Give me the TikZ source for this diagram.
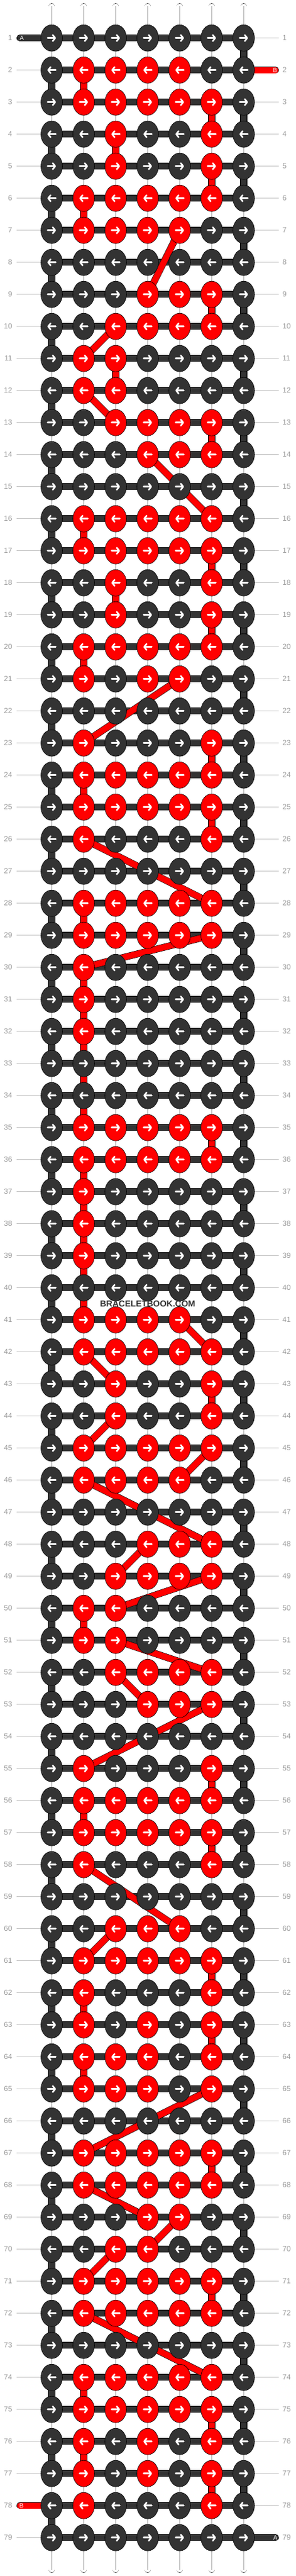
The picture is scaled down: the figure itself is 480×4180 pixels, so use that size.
\documentclass[tikz,border=0pt]{standalone}
\usepackage{fontspec}
\setmainfont{Liberation Sans}
\usetikzlibrary{shapes.geometric, arrows.meta}

\definecolor{bdark}{HTML}{333333}
\definecolor{bred}{HTML}{FF0000}
\definecolor{labgray}{HTML}{9A9A9A}
\definecolor{tickgray}{HTML}{C4C4C4}
\definecolor{coregray}{HTML}{C8C8C8}

\pgfdeclarelayer{strands}
\pgfsetlayers{strands,main}

\tikzset{
  knot/.style={ellipse, draw=black, line width=0.6pt, minimum width=35pt, minimum height=43pt, inner sep=0pt},
  warp/.style={draw=black, line width=0.6pt, double=white, double distance=9.6pt},
  warpcore/.style={draw=coregray, line width=1.4pt},
  carrier/.style={draw=black, line width=0.6pt, double=bdark, double distance=10pt},
  bstrand/.style={draw=black, line width=0.6pt, double=bred, double distance=10pt},
  knotarrow/.style={white, line width=2.6pt, line cap=round, -{Straight Barb[length=4pt,width=10pt,round]}},
  rowlab/.style={text=labgray, font=\fontsize{12}{12}\selectfont, inner sep=0pt},
  rowtick/.style={draw=tickgray, line width=0.8pt},
  tailtext/.style={text=white, font=\fontsize{10}{10}\selectfont, inner sep=0pt}
}

\begin{document}
\begin{tikzpicture}[x=1pt,y=-1pt]
\useasboundingbox (0,0) rectangle (480,4180);

% knots, row by row (odd rows -> , even rows <-)
\foreach \r/\reds in {1/{0}, 2/{2,3,4,5}, 3/{2,3,4,5,6}, 4/{3,6}, 5/{3,6}, 6/{2,3,4,5,6}, 7/{2,3,4,5}, 8/{0},
    9/{4,5,6}, 10/{3,4,5,6}, 11/{2,3}, 12/{2,3}, 13/{3,4,5,6}, 14/{4,5,6}, 15/{0},
    16/{2,3,4,5,6}, 17/{2,3,4,5,6}, 18/{3,6}, 19/{3,6}, 20/{2,3,4,5,6}, 21/{2,4,5}, 22/{0},
    23/{2,6}, 24/{2,3,4,5,6}, 25/{2,3,4,5,6}, 26/{2,6}, 27/{0},
    28/{2,3,4,5,6}, 29/{2,3,4,5,6}, 30/{2}, 31/{2}, 32/{2}, 33/{0}, 34/{0},
    35/{2,3,4,5,6}, 36/{2,3,4,5,6}, 37/{2}, 38/{2}, 39/{2}, 40/{0},
    41/{2,3,4,5}, 42/{2,3,4,5,6}, 43/{3,6}, 44/{3,6}, 45/{2,3,4,5,6}, 46/{2,3,4,5}, 47/{0},
    48/{4,5,6}, 49/{3,4,5,6}, 50/{2,3}, 51/{2,3}, 52/{3,4,5,6}, 53/{4,5,6}, 54/{0},
    55/{2,6}, 56/{2,3,4,5,6}, 57/{2,3,4,5,6}, 58/{2,6}, 59/{0},
    60/{3,4,5}, 61/{2,3,4,5,6}, 62/{2,6}, 63/{2,4,6}, 64/{2,3,4,6}, 65/{2,3,4,6}, 66/{0},
    67/{2,3,4,5,6}, 68/{2,3,4,5,6}, 69/{4,5}, 70/{3,4}, 71/{2,3,4,5,6}, 72/{2,3,4,5,6}, 73/{0},
    74/{2,3,4,5,6}, 75/{2,3,4,5,6}, 76/{2,4,6}, 77/{2,4,6}, 78/{2,6}, 79/{0}}{
  \foreach \c in {1,...,7}{
    \gdef\kfill{bdark}
    \foreach \x in \reds {\ifnum\x=\c\relax\gdef\kfill{bred}\fi}
    \node[knot, fill=\kfill] (k-\r-\c) at ({32+52*\c},{9.7+52*\r}) {};
    \ifodd\r\relax
      \draw[knotarrow] ([xshift=-6.5pt]k-\r-\c.center) -- ([xshift=7pt]k-\r-\c.center);
    \else
      \draw[knotarrow] ([xshift=6.5pt]k-\r-\c.center) -- ([xshift=-7pt]k-\r-\c.center);
    \fi
  }
}

% row numbers
\foreach \r in {1,...,79}{
  \node[rowlab, anchor=east] (ll-\r) at (20,{9.7+52*\r}) {\r};
  \node[rowlab, anchor=west] (lr-\r) at (459,{9.7+52*\r}) {\r};
  \ifnum\r=1 \else\ifnum\r=78 \else
    \draw[rowtick] ([xshift=7pt]ll-\r.east) -- (k-\r-1.west);
  \fi\fi
  \ifnum\r=2 \else\ifnum\r=79 \else
    \draw[rowtick] (k-\r-7.east) -- ([xshift=-6pt]lr-\r.west);
  \fi\fi
}

\begin{pgfonlayer}{strands}
  % white base strings
  \foreach \c in {1,...,7}{
    \coordinate (top-\c) at ({32+52*\c},10.5);
    \coordinate (bot-\c) at ({32+52*\c},4169.5);
    \draw[warp, line cap=round] (top-\c) -- (k-1-\c.center);
    \draw[warp, line cap=round] (k-79-\c.center) -- (bot-\c);
    \draw[warpcore] (top-\c) -- (k-1-\c.center);
    \draw[warpcore] (k-79-\c.center) -- (bot-\c);
    \foreach \r in {1,...,78}{
      \pgfmathtruncatemacro\rn{\r+1}
      \draw[warp] (k-\r-\c.center) -- (k-\rn-\c.center);
      \draw[warpcore] (k-\r-\c.center) -- (k-\rn-\c.center);
    }
  }

  % string A
  \foreach \r in {1,...,79}{
    \draw[carrier] (k-\r-1.center) -- (k-\r-7.center);
  }
  \foreach \r in {1,...,78}{
    \pgfmathtruncatemacro\rn{\r+1}
    \ifodd\r\relax
      \draw[carrier] (k-\r-7.center) -- (k-\rn-7.center);
    \else
      \draw[carrier] (k-\r-1.center) -- (k-\rn-1.center);
    \fi
  }

  % loose ends
  \coordinate (a-in) at (32.5,61.7);
  \coordinate (a-out) at (447.5,4117.7);
  \coordinate (b-in) at (447.5,113.7);
  \coordinate (b-out) at (32.5,4065.7);
  \draw[carrier, line cap=round] (a-in) -- (k-1-1.center);
  \draw[carrier, line cap=round] (k-79-7.center) -- (a-out);
  \draw[bstrand, line cap=round] (b-in) -- (k-2-7.center);
  \draw[bstrand, line cap=round] (k-78-1.center) -- (b-out);

  % string B
  \foreach \ra/\ca/\rb/\cb in {2/2/3/2, 3/6/4/6, 4/3/5/3, 5/6/6/6, 6/2/7/2, 7/5/9/4, 9/6/10/6,
      10/3/11/2, 11/3/12/3, 12/2/13/3, 13/6/14/6, 14/4/16/6, 16/2/17/2, 17/6/18/6, 18/3/19/3,
      19/6/20/6, 20/2/21/2, 21/5/23/2, 23/6/24/6, 24/2/25/2, 25/6/26/6, 26/2/28/6, 28/2/29/2,
      29/6/30/2, 30/2/31/2, 31/2/32/2, 32/2/33/2, 33/2/34/2, 34/2/35/2, 35/6/36/6, 36/2/37/2,
      37/2/38/2, 38/2/39/2, 39/2/40/2, 40/2/41/2, 41/5/42/6, 42/2/43/3, 43/6/44/6, 44/3/45/2,
      45/6/46/5, 46/2/48/6, 48/4/49/3, 49/6/50/3, 50/2/51/2, 51/3/52/6, 52/3/53/4, 53/6/55/2,
      55/6/56/6, 56/2/57/2, 57/6/58/6, 58/2/60/5, 60/3/61/2, 61/6/62/6, 62/2/63/2, 63/6/64/6,
      64/2/65/2, 65/6/67/2, 67/6/68/6, 68/2/69/4, 69/5/70/4, 70/3/71/2, 71/6/72/6, 72/2/74/6,
      74/2/75/2, 75/6/76/6, 76/2/77/2, 77/6/78/6}{
    \draw[bstrand] (k-\ra-\ca.center) -- (k-\rb-\cb.center);
  }
\end{pgfonlayer}

\node[tailtext] (a-in-t) at (35.5,61.7) {A};
\node[tailtext] (a-out-t) at (447.5,4117.7) {A};
\node[tailtext] (b-in-t) at (447,113.7) {B};
\node[tailtext] (b-out-t) at (35,4065.7) {B};

\node[text=bdark, font=\bfseries\fontsize{14}{14}\selectfont, inner sep=0pt] (mark) at (240,2115.7) {BRACELETBOOK.COM};
\end{tikzpicture}
\end{document}
